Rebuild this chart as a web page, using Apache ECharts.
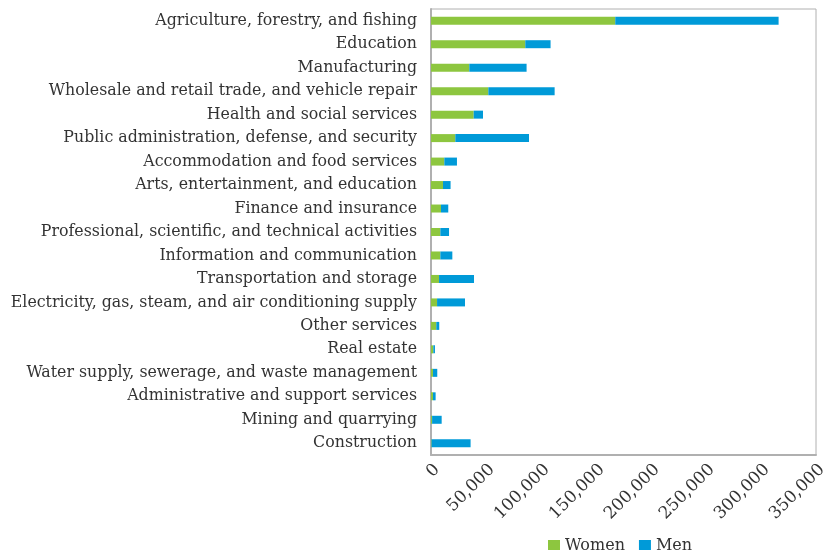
<!DOCTYPE html>
<html><head><meta charset="utf-8">
<script src="https://cdn.jsdelivr.net/npm/echarts@6/dist/echarts.min.js"></script>
<style>html,body{margin:0;padding:0;background:#fff}#c{width:823px;height:550px}</style>
</head><body><div id="c"></div>
<script>
const categories = [
  "Agriculture, forestry, and fishing",
  "Education",
  "Manufacturing",
  "Wholesale and retail trade, and vehicle repair",
  "Health and social services",
  "Public administration, defense, and security",
  "Accommodation and food services",
  "Arts, entertainment, and education",
  "Finance and insurance",
  "Professional, scientific, and technical activities",
  "Information and communication",
  "Transportation and storage",
  "Electricity, gas, steam, and air conditioning supply",
  "Other services",
  "Real estate",
  "Water supply, sewerage, and waste management",
  "Administrative and support services",
  "Mining and quarrying",
  "Construction"
];
const women = [167500, 85700, 34800, 52100, 38800, 22100, 12100, 10900, 9100, 8500, 8500, 7300, 5500, 4800, 2100, 1800, 1800, 1000, 500];
const men   = [148500, 23000, 52100, 60300, 8500, 67000, 11500, 6900, 6600, 7900, 10900, 31800, 25400, 2700, 1500, 3900, 2400, 8700, 35500];
const seriesNames = ["Women", "Men"];
const xTicks = {min: 0, max: 350000, interval: 50000};

const font = "'DejaVu Serif', serif";
const chart = echarts.init(document.getElementById('c'));
chart.setOption({
  animation: false,
  textStyle: {fontFamily: font},
  grid: {left: 431, right: 7, top: 9, bottom: 95, show: true, borderColor: '#b0b0b0', borderWidth: 1,
         containLabel: false, outerBoundsMode: 'none'},
  legend: {
    top: 533, left: 543, itemWidth: 12, itemHeight: 12, itemGap: 14,
    icon: 'rect',
    textStyle: {fontFamily: font, fontSize: 16, color: '#333'},
    data: seriesNames
  },
  xAxis: {
    type: 'value', min: xTicks.min, max: xTicks.max, interval: xTicks.interval,
    axisLine: {show: true, lineStyle: {color: '#b0b0b0', width: 2}},
    axisTick: {show: false},
    splitLine: {show: false},
    axisLabel: {
      rotate: 45, fontFamily: font, fontSize: 17, color: '#333', margin: 6,
      verticalAlign: 'top', hideOverlap: false,
      formatter: v => v.toLocaleString('en-US')
    }
  },
  yAxis: {
    type: 'category', data: categories, inverse: true,
    axisLine: {show: true, lineStyle: {color: '#b0b0b0', width: 2}},
    axisTick: {show: false},
    axisLabel: {fontFamily: font, fontSize: 15.8, color: '#333', margin: 14}
  },
  series: [
    {name: seriesNames[0], type: 'bar', stack: 't', data: women, barWidth: 8, itemStyle: {color: '#8dc63f'}},
    {name: seriesNames[1], type: 'bar', stack: 't', data: men, barWidth: 8, itemStyle: {color: '#009ad8'}}
  ]
});
</script></body></html>
